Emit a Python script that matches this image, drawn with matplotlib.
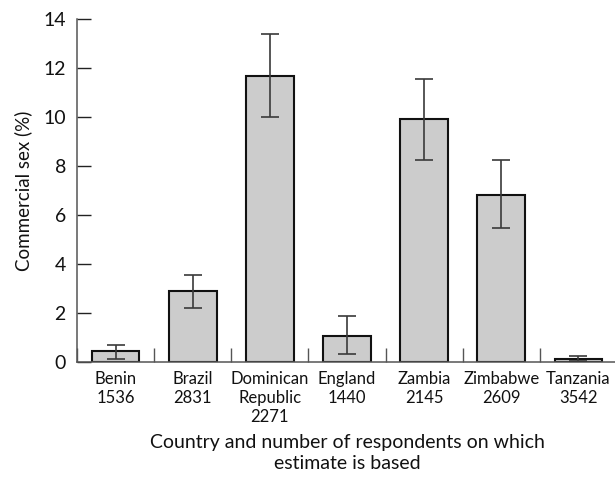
import numpy as np
import matplotlib
matplotlib.use("Agg")
import matplotlib.pyplot as plt

# Share of respondents reporting commercial sex, with 95% confidence limits
countries = ["Benin", "Brazil", "Dominican\nRepublic", "England", "Zambia", "Zimbabwe", "Tanzania"]
respondents = ["1536", "2831", "2271", "1440", "2145", "2609", "3542"]
percent = [0.44, 2.90, 11.67, 1.06, 9.90, 6.82, 0.10]
ci_low = [0.12, 2.18, 10.01, 0.33, 8.25, 5.45, 0.02]
ci_high = [0.69, 3.55, 13.39, 1.88, 11.54, 8.24, 0.25]
y_ticks = [0, 2, 4, 6, 8, 10, 12, 14]

plt.rcParams["font.family"] = ["Lato", "DejaVu Sans"]

W, H = 615, 482
fig = plt.figure(figsize=(W / 100, H / 100), dpi=100)
ax = fig.add_axes([77 / W, (H - 361.7) / H, (617 - 77) / W, 342.7 / H])

x = np.arange(len(countries))
pct = np.array(percent)
yerr = np.vstack([pct - np.array(ci_low), np.array(ci_high) - pct])

ax.bar(x, pct, width=0.62, color="#cccccc", edgecolor="#111111", linewidth=1.5, zorder=2)
ax.errorbar(x, pct, yerr=yerr, fmt="none", ecolor="#3a3a3a", elinewidth=1.2,
            capsize=6.5, capthick=1.2, zorder=3)

ax.set_xlim(-0.5, 6.5)
ax.set_ylim(0, 14)

axis_col = "#555555"
for side in ("top", "right"):
    ax.spines[side].set_visible(False)
for side in ("left", "bottom"):
    ax.spines[side].set_color(axis_col)
    ax.spines[side].set_linewidth(1.1)

ax.set_yticks(y_ticks)
ax.tick_params(axis="y", direction="in", length=10, width=1.0, color="#222222",
               labelsize=14, pad=8, labelcolor="#111111")

ax.set_xticks(x)
ax.set_xticklabels([f"{c}\n{n}" for c, n in zip(countries, respondents)])
ax.tick_params(axis="x", which="major", length=0, labelsize=12, pad=7, labelcolor="#111111")
ax.set_xticks(np.arange(-0.5, 6.5, 1.0), minor=True)
ax.tick_params(axis="x", which="minor", direction="in", length=10, width=1.0, color=axis_col)

ax.set_ylabel("Commercial sex (%)", fontsize=13.5, color="#111111", labelpad=8)
ax.set_xlabel("Country and number of respondents on which\nestimate is based",
              fontsize=14, color="#111111", labelpad=7, linespacing=1.25)

fig.savefig("out.png", dpi=100)
